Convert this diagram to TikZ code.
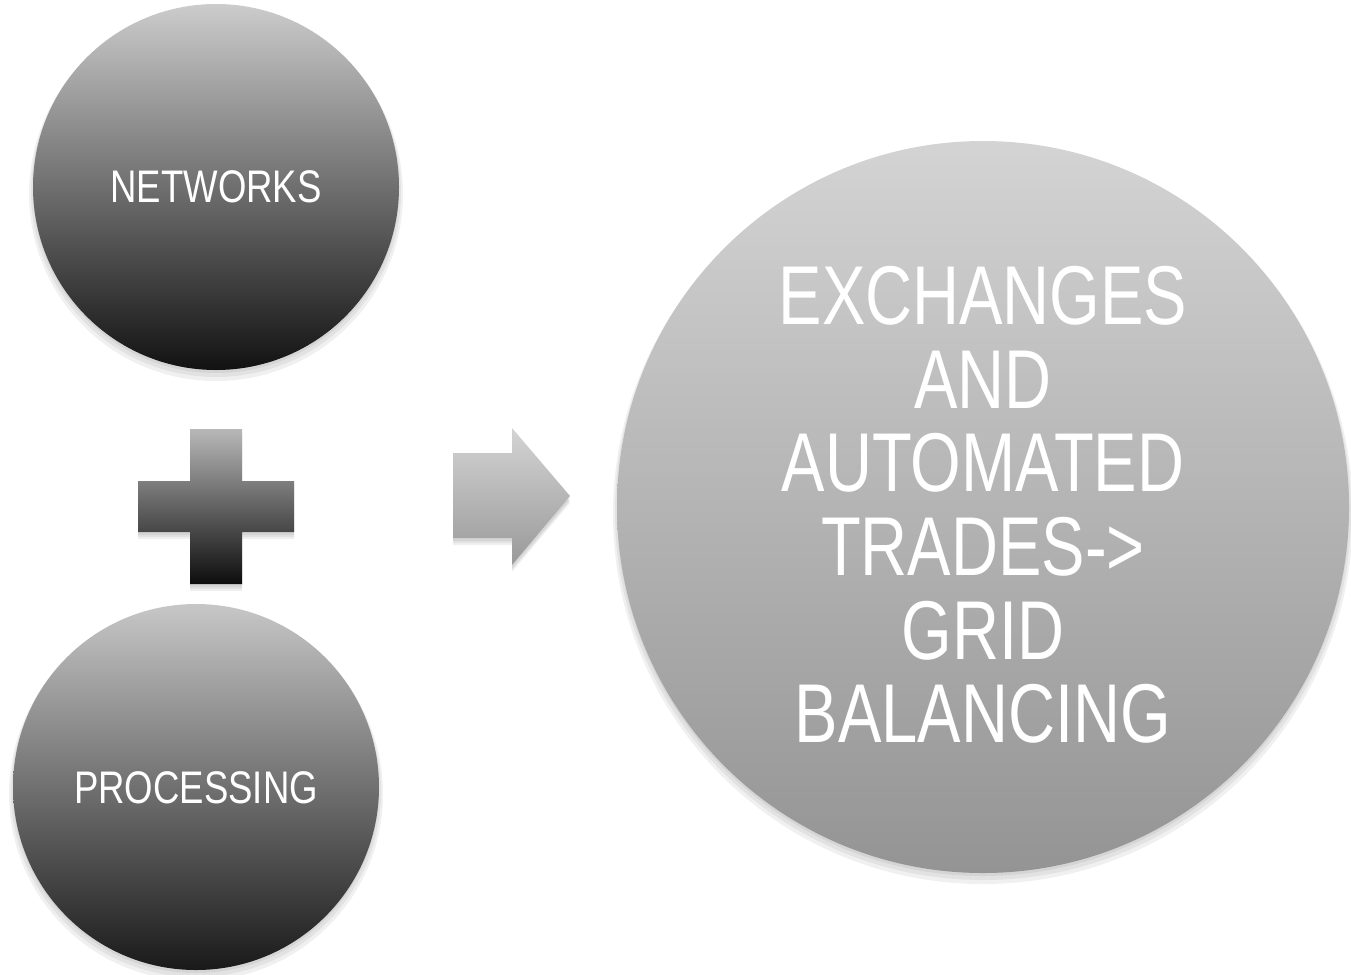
\documentclass[tikz,border=0pt]{standalone}
\usepackage{fontspec}
\setmainfont[FakeStretch=0.8]{Liberation Sans}
\newfontfamily\bigfont[FakeStretch=0.78]{Liberation Sans}
\tikzset{
  bigball/.style={top color=black!17, bottom color=black!42, draw=none},
  softshadow/.style={fill=black, opacity=0.06, draw=none},
  lbl/.style={text=white, inner sep=0pt}
}
\begin{document}
\begin{tikzpicture}[x=0.02cm,y=-0.02cm]
\useasboundingbox (0,0) rectangle (1351,974);
% shadows
\foreach \d/\e in {3/0,5/2,7/4}{
  \fill[softshadow] (216,187+\d) circle (183+\e);
  \fill[softshadow] (196,787+\d) circle (183+\e);
  \fill[softshadow] (983,507+\d) circle (366+\e);
  \fill[softshadow] (190,429+\d) -- (242,429+\d) -- (242,481+\d) -- (294,481+\d) -- (294,532+\d) -- (242,532+\d) -- (242,584+\d) -- (190,584+\d) -- (190,532+\d) -- (138,532+\d) -- (138,481+\d) -- (190,481+\d) -- cycle;
  \fill[softshadow] (453,453+\d) -- (512,453+\d) -- (512,428+\d) -- (570,496+\d) -- (512,565+\d) -- (512,538+\d) -- (453,538+\d) -- cycle;
}
% circles
\path[top color=black!20, bottom color=black!93] (216,187) circle (183);
\path[top color=black!22, bottom color=black!90] (196,787) circle (183);
\path[bigball] (983,507) circle (366);
\coordinate (c1) at (216,187);
\coordinate (c2) at (196,787);
\coordinate (c3) at (983,507);
% plus
\path[top color=black!28, bottom color=black!95] (190,429) -- (242,429) -- (242,481) -- (294,481) -- (294,532) -- (242,532) -- (242,584) -- (190,584) -- (190,532) -- (138,532) -- (138,481) -- (190,481) -- cycle;
% arrow
\path[top color=black!17, bottom color=black!40] (453,453) -- (512,453) -- (512,428) -- (570,496) -- (512,565) -- (512,538) -- (453,538) -- cycle;
% labels
\node[lbl, anchor=base, font=\fontsize{26}{30}\selectfont] (t1) at (216,202) {NETWORKS};
\node[lbl, anchor=base, font=\fontsize{26}{30}\selectfont] (t2) at (196,803) {PROCESSING};
\node[lbl, align=center, font=\bigfont\fontsize{47.5}{47.6}\selectfont] (t3) at (983,505) {EXCHANGES\\AND\\AUTOMATED\\TRADES->\\GRID\\BALANCING};
\end{tikzpicture}
\end{document}
